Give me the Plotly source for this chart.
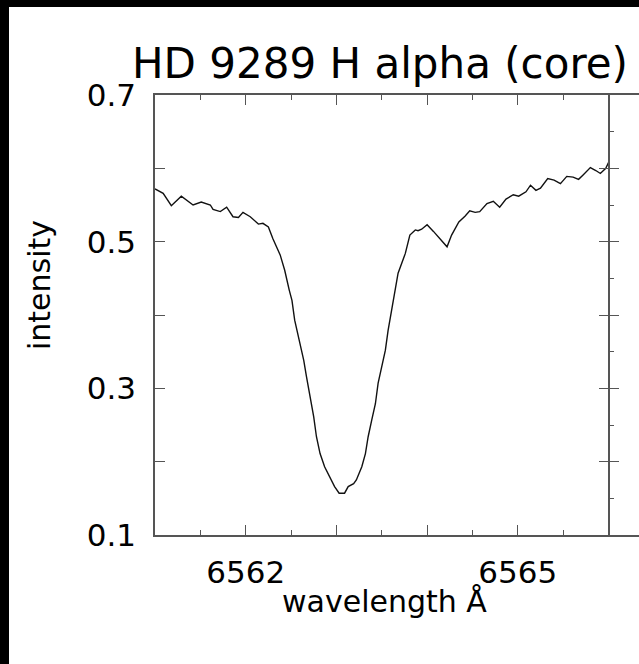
import plotly.graph_objects as go

# ---- data ----
wavelength = [6561.00, 6561.09, 6561.18, 6561.29, 6561.42, 6561.51, 6561.61, 6561.64,
              6561.72, 6561.79, 6561.86, 6561.92, 6561.97, 6562.05, 6562.14, 6562.19,
              6562.25, 6562.30, 6562.38, 6562.43, 6562.48, 6562.51, 6562.54, 6562.60,
              6562.64, 6562.67, 6562.71, 6562.75, 6562.78, 6562.82, 6562.87, 6562.93,
              6562.98, 6563.03, 6563.09, 6563.13, 6563.19, 6563.22, 6563.28, 6563.32,
              6563.35, 6563.39, 6563.43, 6563.46, 6563.50, 6563.54, 6563.57, 6563.61,
              6563.63, 6563.68, 6563.76, 6563.81, 6563.87, 6563.90, 6563.94, 6564.00,
              6564.07, 6564.16, 6564.22, 6564.27, 6564.35, 6564.42, 6564.47, 6564.53,
              6564.58, 6564.66, 6564.73, 6564.80, 6564.87, 6564.95, 6565.01, 6565.09,
              6565.14, 6565.20, 6565.25, 6565.33, 6565.40, 6565.47, 6565.54, 6565.61,
              6565.67, 6565.72, 6565.80, 6565.86, 6565.91, 6565.97, 6566.00]
intensity = [0.572, 0.566, 0.549, 0.562, 0.550, 0.554, 0.550, 0.544,
             0.541, 0.547, 0.534, 0.533, 0.540, 0.534, 0.524, 0.525,
             0.520, 0.504, 0.482, 0.461, 0.434, 0.420, 0.393, 0.361,
             0.338, 0.316, 0.288, 0.261, 0.234, 0.211, 0.193, 0.179,
             0.166, 0.157, 0.157, 0.166, 0.170, 0.175, 0.193, 0.211,
             0.234, 0.257, 0.279, 0.307, 0.329, 0.352, 0.379, 0.407,
             0.420, 0.457, 0.484, 0.509, 0.516, 0.515, 0.517, 0.523,
             0.514, 0.502, 0.493, 0.509, 0.527, 0.535, 0.542, 0.540,
             0.541, 0.552, 0.555, 0.547, 0.558, 0.564, 0.562, 0.568,
             0.577, 0.570, 0.573, 0.586, 0.584, 0.579, 0.589, 0.588,
             0.585, 0.591, 0.601, 0.597, 0.593, 0.600, 0.608]

x_tickvals = [6562, 6563, 6564, 6565]
x_ticktext = ["6562", "", "", "6565"]
y_tickvals = [0.1, 0.2, 0.3, 0.4, 0.5, 0.6, 0.7]
y_ticktext = ["0.1", "", "0.3", "", "0.5", "", "0.7"]
title_text = "HD 9289 H alpha (core)"
xlabel = "wavelength Å"
ylabel = "intensity"

# ---- geometry ----
W, H = 639, 664
L, T, B = 155, 95, 129
PW = W - L
PH = H - T - B
X0 = 6561.0
PX_PER_A = 90.7
XMAX = X0 + PW / PX_PER_A
PANEL_END = 6566.0
pos_end = (PANEL_END - X0) / (XMAX - X0)

FONT = "DejaVu Sans"
AX = "#555555"

fig = go.Figure()
fig.add_trace(go.Scatter(x=wavelength, y=intensity, mode="lines",
                         line=dict(color="#111111", width=1.4),
                         hoverinfo="skip", showlegend=False))

fig.update_layout(
    width=W, height=H,
    margin=dict(l=L, r=0, t=T, b=B),
    paper_bgcolor="white", plot_bgcolor="white",
    font=dict(family=FONT, color="black"),
    xaxis=dict(range=[X0, XMAX], showgrid=False, zeroline=False,
               showline=True, linecolor=AX, linewidth=1.5,
               tickmode="array", tickvals=x_tickvals, ticktext=x_ticktext,
               ticks="inside", ticklen=10, tickwidth=1.2, tickcolor=AX,
               minor=dict(tickmode="linear", tick0=6561, dtick=0.5,
                          ticks="inside", ticklen=5, tickwidth=1.2, tickcolor=AX),
               tickfont=dict(size=31, family=FONT), ticklabelstandoff=9),
    xaxis2=dict(range=[X0, XMAX], overlaying="x", side="top", anchor="y",
                showgrid=False, zeroline=False, showline=True,
                linecolor=AX, linewidth=1.5,
                tickmode="array", tickvals=x_tickvals, showticklabels=False,
                ticks="inside", ticklen=10, tickwidth=1.2, tickcolor=AX,
                minor=dict(tickmode="linear", tick0=6561, dtick=0.5,
                           ticks="inside", ticklen=5, tickwidth=1.2, tickcolor=AX)),
    yaxis=dict(range=[0.1, 0.7], showgrid=False, zeroline=False,
               showline=True, linecolor=AX, linewidth=1.5,
               tickmode="array", tickvals=y_tickvals, ticktext=y_ticktext,
               ticks="inside", ticklen=10, tickwidth=1.2, tickcolor=AX,
               tickfont=dict(size=31, family=FONT), ticklabelstandoff=11),
    yaxis2=dict(range=[0.1, 0.7], overlaying="y", anchor="free", position=pos_end,
                side="right", showgrid=False, zeroline=False, showline=True,
                linecolor=AX, linewidth=1.5,
                tickmode="array", tickvals=y_tickvals[1:-1], showticklabels=False,
                ticks="inside", ticklen=9, tickwidth=1.2, tickcolor=AX),
    yaxis3=dict(range=[0.1, 0.7], overlaying="y", anchor="free", position=pos_end,
                side="left", showgrid=False, zeroline=False, showline=False,
                tickmode="array", tickvals=y_tickvals[1:-1], showticklabels=False,
                ticks="inside", ticklen=9, tickwidth=1.2, tickcolor=AX,
                minor=dict(tickmode="linear", tick0=0.05, dtick=0.1,
                           ticks="inside", ticklen=4, tickwidth=1.2, tickcolor=AX)),
)

# invisible traces so the extra axes are drawn
fig.add_trace(go.Scatter(x=[X0], y=[0.1], xaxis="x2", yaxis="y", mode="markers",
                         marker=dict(opacity=0), hoverinfo="skip", showlegend=False))
fig.add_trace(go.Scatter(x=[X0], y=[0.1], xaxis="x", yaxis="y2", mode="markers",
                         marker=dict(opacity=0), hoverinfo="skip", showlegend=False))
fig.add_trace(go.Scatter(x=[X0], y=[0.1], xaxis="x", yaxis="y3", mode="markers",
                         marker=dict(opacity=0), hoverinfo="skip", showlegend=False))

# title and axis labels
fig.add_annotation(text=title_text, xref="paper", yref="paper",
                   x=(380 - L) / PW, y=1 + (T - 64) / PH, xanchor="center", yanchor="middle",
                   showarrow=False, font=dict(size=42, family=FONT, color="black"))
fig.add_annotation(text=xlabel, xref="paper", yref="paper",
                   x=(384 - L) / PW, y=-(601 - (T + PH)) / PH, xanchor="center", yanchor="middle",
                   showarrow=False, font=dict(size=30, family=FONT, color="black"))
fig.add_annotation(text=ylabel, xref="paper", yref="paper", textangle=-90,
                   x=-(L - 39) / PW, y=1 - (285 - T) / PH, xanchor="center", yanchor="middle",
                   showarrow=False, font=dict(size=30, family=FONT, color="black"))

# black frame on the left and top edges of the picture
fig.add_shape(type="rect", xref="paper", yref="paper", layer="above",
              x0=-L / PW, x1=(9 - L) / PW, y0=-B / PH, y1=1 + T / PH,
              fillcolor="black", line=dict(width=0))
fig.add_shape(type="rect", xref="paper", yref="paper", layer="above",
              x0=-L / PW, x1=1, y0=1 + (T - 7) / PH, y1=1 + T / PH,
              fillcolor="black", line=dict(width=0))

fig.write_html("out.html", config={"displayModeBar": False},
               post_script="document.body.style.margin='0';document.body.style.overflow='hidden';")
